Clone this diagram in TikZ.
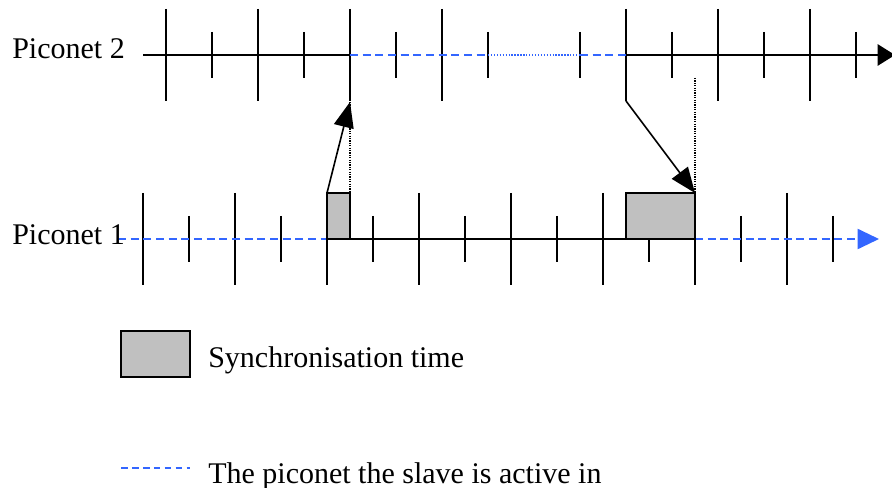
\documentclass[tikz,border=0pt]{standalone}
\usepackage{fontspec}
\setmainfont{Liberation Serif}
\usetikzlibrary{arrows.meta}
\definecolor{slaveblue}{RGB}{51,102,255}
\definecolor{syncgray}{RGB}{192,192,192}

\begin{document}
\begin{tikzpicture}[x=0.75pt, y=-0.75pt,
    tick/.style={line width=1.2pt},
    axisline/.style={line width=1.2pt},
    active/.style={slaveblue, line width=1.5pt, dash pattern=on 6pt off 3.5pt},
    activedot/.style={slaveblue, line width=1.1pt, dash pattern=on 1pt off 1.2pt},
    guide/.style={black, line width=1pt, dash pattern=on 0.9pt off 0.9pt},
    syncbox/.style={draw=black, fill=syncgray, line width=1.2pt},
    jump/.style={line width=1.2pt, -{Triangle[length=19pt,width=15pt]}},
    lbl/.style={font=\fontsize{22.5}{27}\selectfont, inner sep=0pt, anchor=base west}]
    \useasboundingbox (0,0) rectangle (892,488);

    % Piconet 2: tick marks
    \foreach \k in {0,2,4,6,10,12,14}
        \draw[tick] ({166+46*\k},9) -- ({166+46*\k},101);
    \foreach \k in {1,3,5,7,9,11,13,15}
        \draw[tick] ({166+46*\k},32) -- ({166+46*\k},78);

    % Piconet 2: time axis
    \draw[axisline] (143,55) -- (350,55);
    \draw[active] (350,55) -- (488,55);
    \draw[activedot] (488,55) -- (580,55);
    \draw[active] (580,55) -- (626,55);
    \draw[axisline, -{Triangle[length=13pt,width=16pt]}] (626,55) -- (895,55);

    % Piconet 1: tick marks
    \foreach \k in {0,2,...,14}
        \draw[tick] ({143+46*\k},193) -- ({143+46*\k},285);
    \foreach \k in {1,3,...,15}
        \draw[tick] ({143+46*\k},216) -- ({143+46*\k},262);

    % Piconet 1: time axis
    \draw[active] (118,239) -- (327,239);
    \draw[axisline] (327,239) -- (695,239);
    \draw[active, -{Triangle[length=16pt,width=15pt]}] (695,239) -- (879,239);

    % synchronisation windows
    \draw[syncbox] (327,193) rectangle (350,239);
    \draw[syncbox] (626,193) rectangle (695,239);
    \coordinate (syncA) at (327,193);
    \coordinate (syncB) at (695,193);
    \coordinate (hopA) at (350,102);
    \coordinate (hopB) at (626,101);
    \coordinate (guideA) at (350,193);
    \coordinate (guideB) at (695,78);

    \draw[guide] (hopA) -- (guideA);
    \draw[guide] (guideB) -- (syncB);
    \draw[jump] (syncA) -- (hopA);
    \draw[jump] (hopB) -- (syncB);

    % labels
    \node[lbl] (pico2) at (12,59) {Piconet 2};
    \node[lbl] (pico1) at (12,245) {Piconet 1};

    % legend
    \draw[syncbox] (121,331) rectangle (190,377);
    \node[lbl] (synctxt) at (208,367) {Synchronisation time};
    \draw[slaveblue, line width=1pt, dash pattern=on 5pt off 3.2pt] (121,468) -- (190,468);
    \node[lbl] (activetxt) at (208,483) {The piconet the slave is active in};
\end{tikzpicture}
\end{document}
